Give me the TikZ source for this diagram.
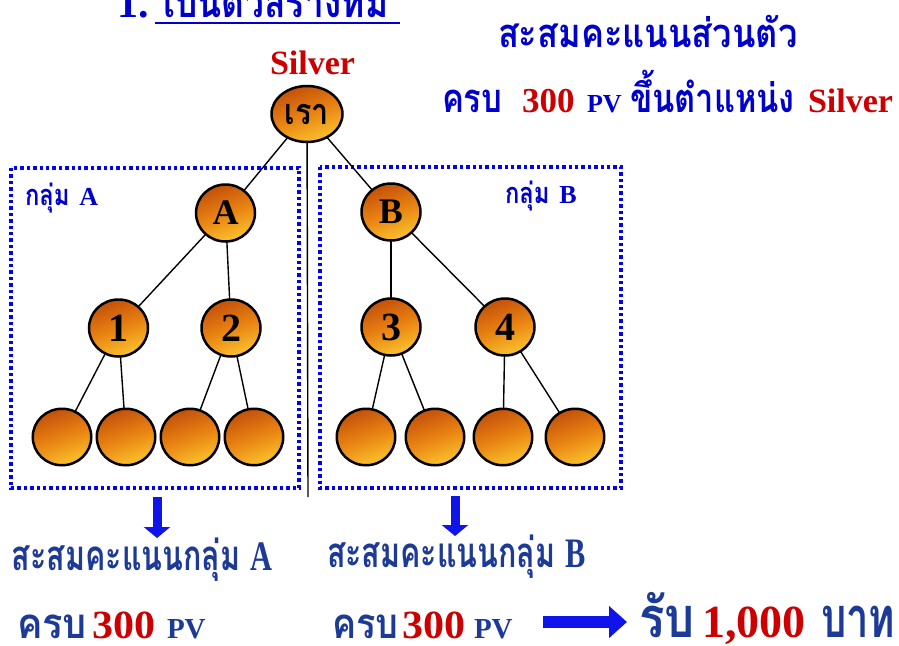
\documentclass[tikz,border=0pt]{standalone}
\usepackage{graphicx}
\usepackage{fontspec}
\setmainfont{Liberation Serif}
\newfontfamily\thai[Script=Thai]{Loma}
\usetikzlibrary{shapes.geometric,arrows.meta}
\definecolor{tblue}{RGB}{0,0,204}
\definecolor{nblue}{RGB}{28,58,150}
\definecolor{tred}{RGB}{204,0,0}
\definecolor{dotblue}{RGB}{0,0,255}
\definecolor{arrblue}{RGB}{15,20,235}
\definecolor{ballL}{RGB}{195,80,10}
\definecolor{ballM}{RGB}{232,130,18}
\definecolor{ballR}{RGB}{250,195,45}
\newcommand{\fs}[1]{\fontsize{#1}{#1}\selectfont}
\newcommand{\sx}[2]{\scalebox{#1}[1]{#2}}
\newcommand{\sxy}[3]{\scalebox{#1}[#2]{#3}}
\begin{document}
\begin{tikzpicture}[x=1pt,y=-1pt,
  ball/.style={ellipse, draw=black, line width=2.5pt, inner sep=0pt,
    left color=ballL, right color=ballR, middle color=ballM, shading angle=20,
    minimum width=59pt, minimum height=57pt},
  rootball/.style={ball, minimum width=71pt, minimum height=56pt},
  leafball/.style={ball, minimum width=58.5pt, minimum height=56.5pt},
  link/.style={draw=black, line width=1.4pt},
  grp/.style={draw=dotblue, line width=3.6pt, dash pattern=on 3.4pt off 3pt},
  txt/.style={inner sep=0pt, outer sep=0pt, anchor=base west},
  downarrow/.style={draw=arrblue, line width=9pt, -{Triangle[width=26pt,length=11pt]}},
  rightarrow/.style={draw=arrblue, line width=12pt, -{Triangle[width=31pt,length=18pt]}}
]
\path[use as bounding box, clip] (0,0) rectangle (899,645);
\fill[white] (0,0) rectangle (899,645);

% group boxes
\draw[grp] (11,168) rectangle (299,488);
\draw[grp] (320,167) rectangle (621,488);

% tree nodes positions
\coordinate (pr) at (307,114);
\coordinate (pa) at (225.5,213);
\coordinate (pb) at (391,212);
\coordinate (p1) at (118.5,328);
\coordinate (p2) at (231,328);
\coordinate (p3) at (391,327);
\coordinate (p4) at (505,327);
\coordinate (l1) at (62,437);
\coordinate (l2) at (126,437);
\coordinate (l3) at (190,437);
\coordinate (l4) at (254,437);
\coordinate (l5) at (366,437);
\coordinate (l6) at (435,437);
\coordinate (l7) at (503,437);
\coordinate (l8) at (575,437);
\coordinate (divend) at (308,497);

% links
\draw[link] (pr) -- (divend);
\draw[link] (pr) -- (pa);
\draw[link] (pr) -- (pb);
\draw[link] (pa) -- (p1);
\draw[link] (pa) -- (p2);
\draw[link] (pb) -- (p3);
\draw[link] (pb) -- (p4);
\draw[link] (p1) -- (l1);
\draw[link] (p1) -- (l2);
\draw[link] (p2) -- (l3);
\draw[link] (p2) -- (l4);
\draw[link] (p3) -- (l5);
\draw[link] (p3) -- (l6);
\draw[link] (p4) -- (l7);
\draw[link] (p4) -- (l8);

% balls
\node[rootball] (root) at (pr) {\thai\bfseries\fs{36}\sx{0.85}{เรา}};
\node[ball] (na) at (pa) {\bfseries\fs{36}A};
\node[ball] (nb) at (pb) {\bfseries\fs{36}B};
\node[ball] (n1) at (p1) {\bfseries\fs{40}1};
\node[ball] (n2) at (p2) {\bfseries\fs{40}2};
\node[ball] (n3) at (p3) {\bfseries\fs{40}3};
\node[ball] (n4) at (p4) {\bfseries\fs{40}4};
\foreach \i in {1,...,8} {\node[leafball] (leaf\i) at (l\i) {};}

% title
\node[txt, text=tblue] (tnum) at (117,17) {\bfseries\fs{42}1.};
\node[txt, text=tblue] (ttitle) at (163,17) {\thai\bfseries\fs{42}\sx{0.84}{เป็นตัวสร้างทีม}};
\coordinate (ul1) at (155,22.5);
\coordinate (ul2) at (400,22.5);
\draw[tblue, line width=2pt] (ul1) -- (ul2);

% top right
\node[txt, text=tblue] (pers) at (498,47) {\thai\bfseries\fs{40}\sx{0.86}{สะสมคะแนนส่วนตัว}};
\node[txt, text=tblue] (r2a) at (442,112) {\thai\bfseries\fs{40}\sx{0.82}{ครบ}};
\node[txt, text=tred] (r2b) at (522,112) {\bfseries\fs{35}300};
\node[txt, text=tblue] (r2c) at (587,112) {\bfseries\fs{26}PV};
\node[txt, text=tblue] (r2d) at (630,112) {\thai\bfseries\fs{40}\sx{0.815}{ขึ้นตำแหน่ง}};
\node[txt, text=tred] (r2e) at (808,112) {\bfseries\fs{34}Silver};

\node[txt, text=tred] (silver) at (270,74) {\bfseries\fs{34}Silver};

% group labels
\node[txt, text=tblue] (ga) at (25,205) {\thai\bfseries\fs{29}\sx{0.82}{กลุ่ม} \rmfamily\fs{26}A};
\node[txt, text=tblue] (gb) at (505,203) {\thai\bfseries\fs{29}\sx{0.82}{กลุ่ม} \rmfamily\fs{26}B};

% down arrows
\coordinate (da1) at (157,497);
\coordinate (da2) at (157,538);
\coordinate (db1) at (455,496);
\coordinate (db2) at (455,536);
\draw[downarrow] (da1) -- (da2);
\draw[downarrow] (db1) -- (db2);

% bottom texts
\node[txt, text=nblue] (sa) at (12,570) {\thai\bfseries\fs{40}\sxy{0.76}{1.05}{สะสมคะแนนกลุ่ม \rmfamily A}};
\node[txt, text=nblue] (sb) at (327,567) {\thai\bfseries\fs{40}\sxy{0.76}{1.05}{สะสมคะแนนกลุ่ม \rmfamily B}};

\node[txt, text=nblue] (ka) at (17,638) {\thai\bfseries\fs{40}\sxy{0.95}{1.05}{ครบ}};
\node[txt, text=tred] (kb) at (92,638) {\bfseries\fs{40}\sxy{1.05}{1}{300}};
\node[txt, text=nblue] (kc) at (167,638) {\bfseries\fs{29}PV};
\node[txt, text=nblue] (kd) at (332,638) {\thai\bfseries\fs{40}\sxy{0.9}{1.05}{ครบ}};
\node[txt, text=tred] (ke) at (402,638) {\bfseries\fs{40}\sxy{1.05}{1}{300}};
\node[txt, text=nblue] (kf) at (474,638) {\bfseries\fs{29}PV};

\coordinate (ra1) at (543,622);
\coordinate (ra2) at (627,622);
\draw[rightarrow] (ra1) -- (ra2);

\node[txt, text=nblue] (ga1) at (639,637) {\thai\bfseries\fs{50}\sxy{0.95}{1.12}{รับ}};
\node[txt, text=tred] (ga2) at (702,637) {\bfseries\fs{46}1,000};
\node[txt, text=nblue] (ga3) at (821,637) {\thai\bfseries\fs{50}\sxy{0.8}{1.12}{บาท}};
\end{tikzpicture}
\end{document}
